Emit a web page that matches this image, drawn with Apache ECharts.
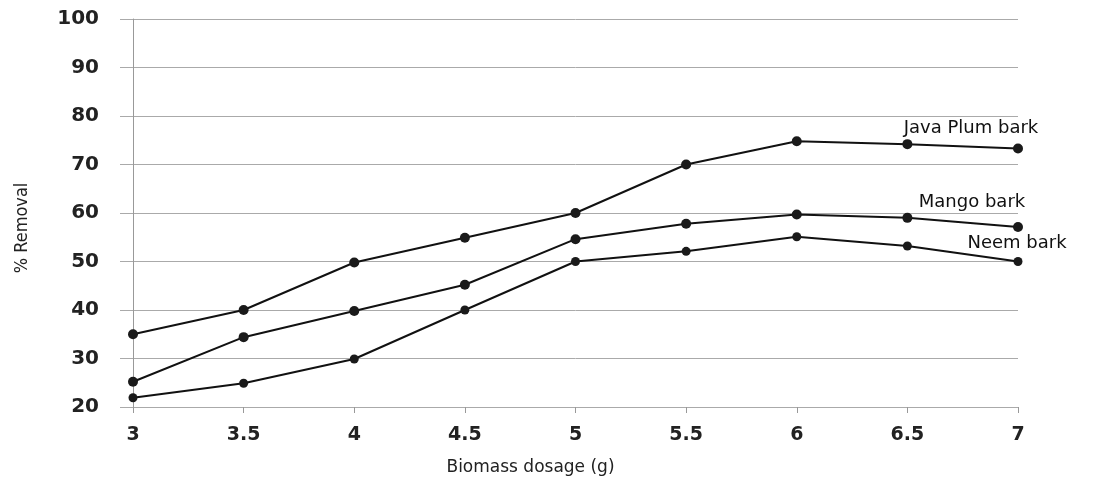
<!DOCTYPE html>
<html><head><meta charset="utf-8">
<script src="https://cdn.jsdelivr.net/npm/echarts@6/dist/echarts.min.js"></script>
<style>html,body{margin:0;padding:0;background:#fff}#c{width:1094px;height:487px}</style>
</head><body><div id="c"></div>
<script>
const categories = ['3','3.5','4','4.5','5','5.5','6','6.5','7'];
const javaPlum = [35, 40, 49.8, 54.9, 60, 70, 74.8, 74.2, 73.3];
const mango = [25.2, 34.4, 39.8, 45.2, 54.6, 57.8, 59.7, 59, 57.1];
const neem = [21.9, 24.9, 29.9, 40, 50, 52.1, 55.1, 53.2, 50];
const yTicks = {min: 20, max: 100, interval: 10};
const seriesNames = ['Java Plum bark', 'Mango bark', 'Neem bark'];

function endLabelData(arr, offset) {
  return arr.map((v, i) => i === arr.length - 1 ? {
    value: v,
    label: {show: true, formatter: '{a}', position: 'top', offset: offset,
      fontFamily: 'DejaVu Sans', fontSize: 18, color: '#111'}
  } : v);
}
function mk(name, data, offset, size) {
  return {
    name: name, type: 'line', data: endLabelData(data, offset),
    symbol: 'circle', symbolSize: size,
    itemStyle: {color: '#1a1a1a'},
    lineStyle: {color: '#111', width: 2},
    label: {show: false},
    z: 3
  };
}
const chart = echarts.init(document.getElementById('c'));
chart.setOption({
  animation: false,
  grid: {left: 133, right: 76, top: 19, bottom: 80},
  xAxis: {
    type: 'category', data: categories, boundaryGap: false,
    name: 'Biomass dosage (g)', nameLocation: 'middle', nameGap: 52,
    nameTextStyle: {fontFamily: 'DejaVu Sans', fontSize: 17, color: '#222', padding: [0, 90, 0, 0]},
    axisLine: {show: false},
    axisTick: {show: true, length: 6, lineStyle: {color: '#999'}},
    axisLabel: {fontFamily: 'DejaVu Sans', fontWeight: 'bold', fontSize: 19, color: '#222', margin: 19},
    splitLine: {show: false}
  },
  yAxis: {
    type: 'value', min: yTicks.min, max: yTicks.max, interval: yTicks.interval,
    name: '% Removal', nameLocation: 'middle', nameGap: 102, nameRotate: 90,
    nameTextStyle: {fontFamily: 'DejaVu Sans Condensed', fontSize: 18, color: '#222', padding: [0, 30, 0, 0]},
    axisLine: {show: true, lineStyle: {color: '#999', width: 1}},
    axisTick: {show: true, length: 13, lineStyle: {color: '#aaa'}},
    axisLabel: {fontFamily: 'DejaVu Sans', fontWeight: 'bold', fontSize: 20, color: '#222', margin: 34},
    splitLine: {show: true, lineStyle: {color: '#aaa', width: 1}}
  },
  series: [
    mk(seriesNames[0], javaPlum, [-47, -1], 10),
    mk(seriesNames[1], mango, [-46, -6], 10),
    mk(seriesNames[2], neem, [-1, 0], 9)
  ]
});
</script></body></html>
